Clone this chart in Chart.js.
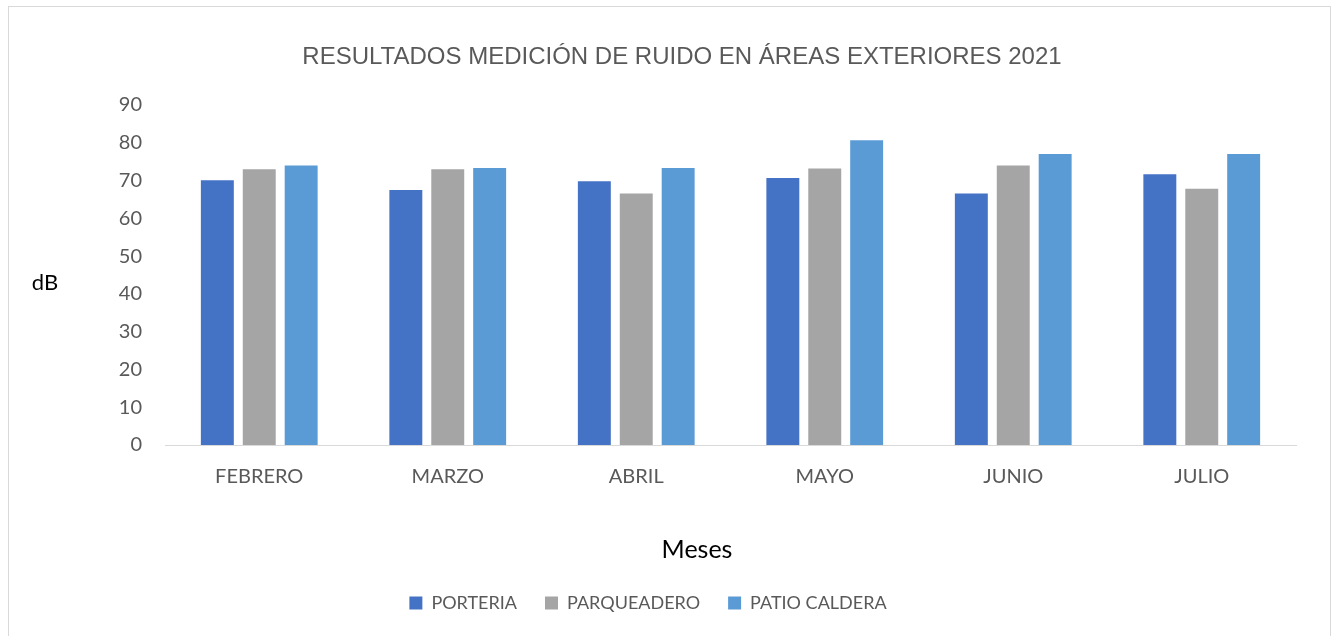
<!DOCTYPE html>
<html>
<head>
<meta charset="utf-8">
<script src="https://cdn.jsdelivr.net/npm/chart.js@4"></script>
<style>
html,body{margin:0;padding:0;background:#fff;}
#wrap{position:absolute;left:0;top:0;width:1335px;height:636px;}
</style>
</head>
<body>
<div id="wrap"><canvas id="c" width="1335" height="636"></canvas></div>
<script>
const categories = ['FEBRERO', 'MARZO', 'ABRIL', 'MAYO', 'JUNIO', 'JULIO'];
const porteria = [70.1, 67.5, 69.8, 70.7, 66.6, 71.7];
const parqueadero = [73.0, 73.0, 66.6, 73.2, 74.0, 67.8];
const patioCaldera = [74.0, 73.3, 73.3, 80.7, 77.0, 77.0];
const yTicks = [0, 10, 20, 30, 40, 50, 60, 70, 80, 90];
const chartTitle = 'RESULTADOS MEDICIÓN DE RUIDO EN ÁREAS EXTERIORES 2021';
const yTitle = 'dB';
const xTitle = 'Meses';

const gray = '#595959';

const extras = {
  id: 'extras',
  beforeDraw(chart) {
    const ctx = chart.ctx;
    ctx.save();
    ctx.fillStyle = '#fff';
    ctx.fillRect(0, 0, chart.width, chart.height);
    ctx.strokeStyle = '#d9d9d9';
    ctx.lineWidth = 1;
    ctx.strokeRect(8.5, 6.5, 1322, 660);
    ctx.restore();
  },
  afterDraw(chart) {
    const ctx = chart.ctx;
    ctx.save();
    ctx.textAlign = 'center';
    ctx.textBaseline = 'middle';
    ctx.fillStyle = gray;
    ctx.font = '24px "Liberation Sans"';
    ctx.fillText(chartTitle, 682, 57);
    ctx.fillStyle = '#000';
    ctx.font = '22px Lato';
    ctx.fillText(yTitle, 45, 283);
    ctx.font = '25px Lato';
    ctx.fillText(xTitle, 697, 550);
    ctx.restore();
  }
};

new Chart(document.getElementById('c'), {
  type: 'bar',
  data: {
    labels: categories,
    datasets: [
      { label: 'PORTERIA', data: porteria, backgroundColor: '#4472C4' },
      { label: 'PARQUEADERO', data: parqueadero, backgroundColor: '#A5A5A5' },
      { label: 'PATIO CALDERA', data: patioCaldera, backgroundColor: '#5B9BD5' }
    ]
  },
  options: {
    responsive: false,
    animation: false,
    barPercentage: 0.786,
    categoryPercentage: 0.667,
    layout: { padding: { left: 0, right: 39, top: 105, bottom: 14 } },
    plugins: {
      title: { display: false },
      legend: {
        position: 'bottom',
        labels: {
          color: gray,
          font: { family: 'Lato', size: 18 },
          boxWidth: 13,
          boxHeight: 13,
          padding: 28
        }
      },
      tooltip: { enabled: false }
    },
    scales: {
      x: {
        grid: { display: false, drawTicks: false },
        border: { display: true, color: '#d9d9d9', width: 1 },
        ticks: { color: gray, font: { family: 'Lato', size: 20 }, padding: 20, maxRotation: 0 },
        afterFit(s) { s.height = 121; }
      },
      y: {
        min: 0, max: 90,
        afterBuildTicks(s) { s.ticks = yTicks.map(v => ({ value: v })); },
        grid: { display: false, drawTicks: false },
        border: { display: false },
        ticks: { color: gray, font: { family: 'Lato', size: 20 }, padding: 23 },
        afterFit(s) { s.width = 165; }
      }
    }
  },
  plugins: [extras]
});
</script>
</body>
</html>
